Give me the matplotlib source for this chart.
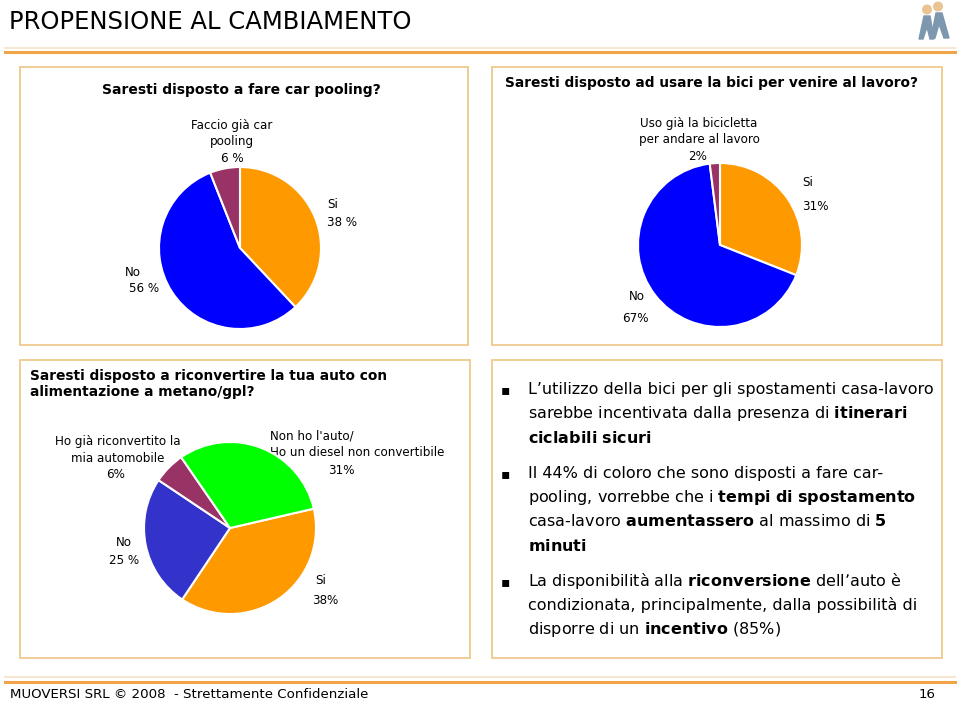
import matplotlib.pyplot as plt
from matplotlib.patches import Rectangle, Circle, Polygon

# ---- data ----
car_labels = ["Si", "No", "Faccio già car\npooling"]
car_values = [38, 56, 6]
car_pct = ["38 %", "56 %", "6 %"]

bici_labels = ["Si", "No", "Uso già la bicicletta\nper andare al lavoro"]
bici_values = [31, 67, 2]
bici_pct = ["31%", "67%", "2%"]

conv_labels = ["Si", "No", "Ho già riconvertito la\nmia automobile",
               "Non ho l'auto/\nHo un diesel non convertibile"]
conv_values = [38, 25, 6, 31]
conv_pct = ["38%", "25 %", "6%", "31%"]

bullets = [
    ["L’utilizzo della bici per gli spostamenti casa-lavoro",
     r"sarebbe incentivata dalla presenza di $\mathbf{itinerari}$",
     r"$\mathbf{ciclabili\ sicuri}$"],
    ["Il 44% di coloro che sono disposti a fare car-",
     r"pooling, vorrebbe che i $\mathbf{tempi\ di\ spostamento}$",
     r"casa-lavoro $\mathbf{aumentassero}$ al massimo di $\mathbf{5}$",
     r"$\mathbf{minuti}$"],
    ["La disponibilità alla $\\mathbf{riconversione}$ dell’auto è",
     "condizionata, principalmente, dalla possibilità di",
     r"disporre di un $\mathbf{incentivo}$ (85%)"],
]

W, H = 960, 703
ORANGE = "#FF9900"
PURPLE = "#993366"
FRAME = "#F0C98C"

plt.rcParams["font.family"] = "DejaVu Sans"
plt.rcParams["mathtext.fontset"] = "dejavusans"

fig = plt.figure(figsize=(9.6, 7.03), dpi=100)
ax0 = fig.add_axes([0, 0, 1, 1])
ax0.set_xlim(0, W)
ax0.set_ylim(H, 0)
ax0.axis("off")

# --- header / footer ---
ax0.text(9, 22, "PROPENSIONE AL CAMBIAMENTO", fontsize=17.5, va="center")
ax0.plot([5, 955], [47.5, 47.5], color="#F6E7D3", lw=1.5)
ax0.plot([5, 955], [52, 52], color="#F0A447", lw=2.2)
ax0.plot([5, 955], [677, 677], color="#F6E7D3", lw=1.5)
ax0.plot([5, 955], [682, 682], color="#F0A447", lw=2.2)
ax0.text(10, 695, "MUOVERSI SRL © 2008  - Strettamente Confidenziale",
         fontsize=9.6, va="center")
ax0.text(936, 695, "16", fontsize=9.6, va="center", ha="right")

# little logo
ax0.add_patch(Polygon([(931, 38), (936, 13), (942, 13), (949, 38), (944, 38),
                       (939, 24), (935, 38)], color="#7D97AE"))
ax0.add_patch(Polygon([(919, 39), (924, 16), (930, 16), (934, 39), (930, 39),
                       (927, 27), (923, 39)], color="#7D97AE"))
ax0.add_patch(Circle((938, 6.5), 4.3, color="#E9C493"))
ax0.add_patch(Circle((927, 9.5), 4.3, color="#E9C493"))

# --- frames ---
for (x, y, w, h) in [(20, 67, 448, 278), (492, 67, 450, 278),
                     (20, 360, 450, 298), (492, 360, 450, 298)]:
    ax0.add_patch(Rectangle((x, y), w, h, fill=False, edgecolor=FRAME, lw=1.3))

# --- panel titles ---
ax0.text(102, 90, "Saresti disposto a fare car pooling?", fontsize=10,
         fontweight="bold", va="center")
ax0.text(505, 83, "Saresti disposto ad usare la bici per venire al lavoro?",
         fontsize=9.9, fontweight="bold", va="center")
ax0.text(30, 384, "Saresti disposto a riconvertire la tua auto con\n"
         "alimentazione a metano/gpl?", fontsize=9.9, fontweight="bold",
         va="center", linespacing=1.25)


def draw_pie(cx, cy, r, values, colors, startangle):
    pad = 1.03
    ax = fig.add_axes([(cx - r * pad) / W, 1 - (cy + r * pad) / H,
                       2 * r * pad / W, 2 * r * pad / H])
    ax.pie(values, colors=colors, startangle=startangle, counterclock=False,
           wedgeprops=dict(edgecolor="white", linewidth=1.5))
    ax.set_xlim(-pad, pad)
    ax.set_ylim(-pad, pad)
    return ax


def draw_labels(labels, pcts, name_pos, pct_pos, fs=8.6):
    for lab, pct, (nx, ny), (px, py) in zip(labels, pcts, name_pos, pct_pos):
        ax0.text(nx, ny, lab, fontsize=fs, ha="center", va="center",
                 multialignment="left" if lab.startswith("Non") else "center",
                 linespacing=1.3)
        ax0.text(px, py, pct, fontsize=fs, ha="center", va="center")


# pie 1 - car pooling
draw_pie(240, 248, 81, car_values, [ORANGE, "#0000FF", PURPLE], 90)
draw_labels(car_labels, car_pct,
            [(333, 205), (133, 272), (232, 133)],
            [(342, 222), (144, 288), (232, 158)])

# pie 2 - bici
draw_pie(720, 245, 82, bici_values, [ORANGE, "#0000FF", PURPLE], 90)
draw_labels(bici_labels, bici_pct,
            [(808, 182), (637, 297), (699, 131)],
            [(815, 206), (635, 319), (698, 156)])

# pie 3 - riconversione
draw_pie(230, 528, 86, conv_values, [ORANGE, "#3333CC", PURPLE, "#00FF00"], 13)
draw_labels(conv_labels, conv_pct,
            [(321, 580), (124, 542), (118, 450), (357, 444)],
            [(325, 600), (124, 560), (116, 475), (341, 471)])

# --- bullet text ---
line_y = [[389, 413, 438], [473, 497, 521, 546], [581, 605, 629]]
for block, ys in zip(bullets, line_y):
    ax0.text(505, ys[0] + 1, "▪", fontsize=10, ha="center", va="center")
    for line, y in zip(block, ys):
        ax0.text(528, y + 5, line, fontsize=11.5, va="baseline")

fig.savefig("out.png", dpi=100, facecolor="white")
